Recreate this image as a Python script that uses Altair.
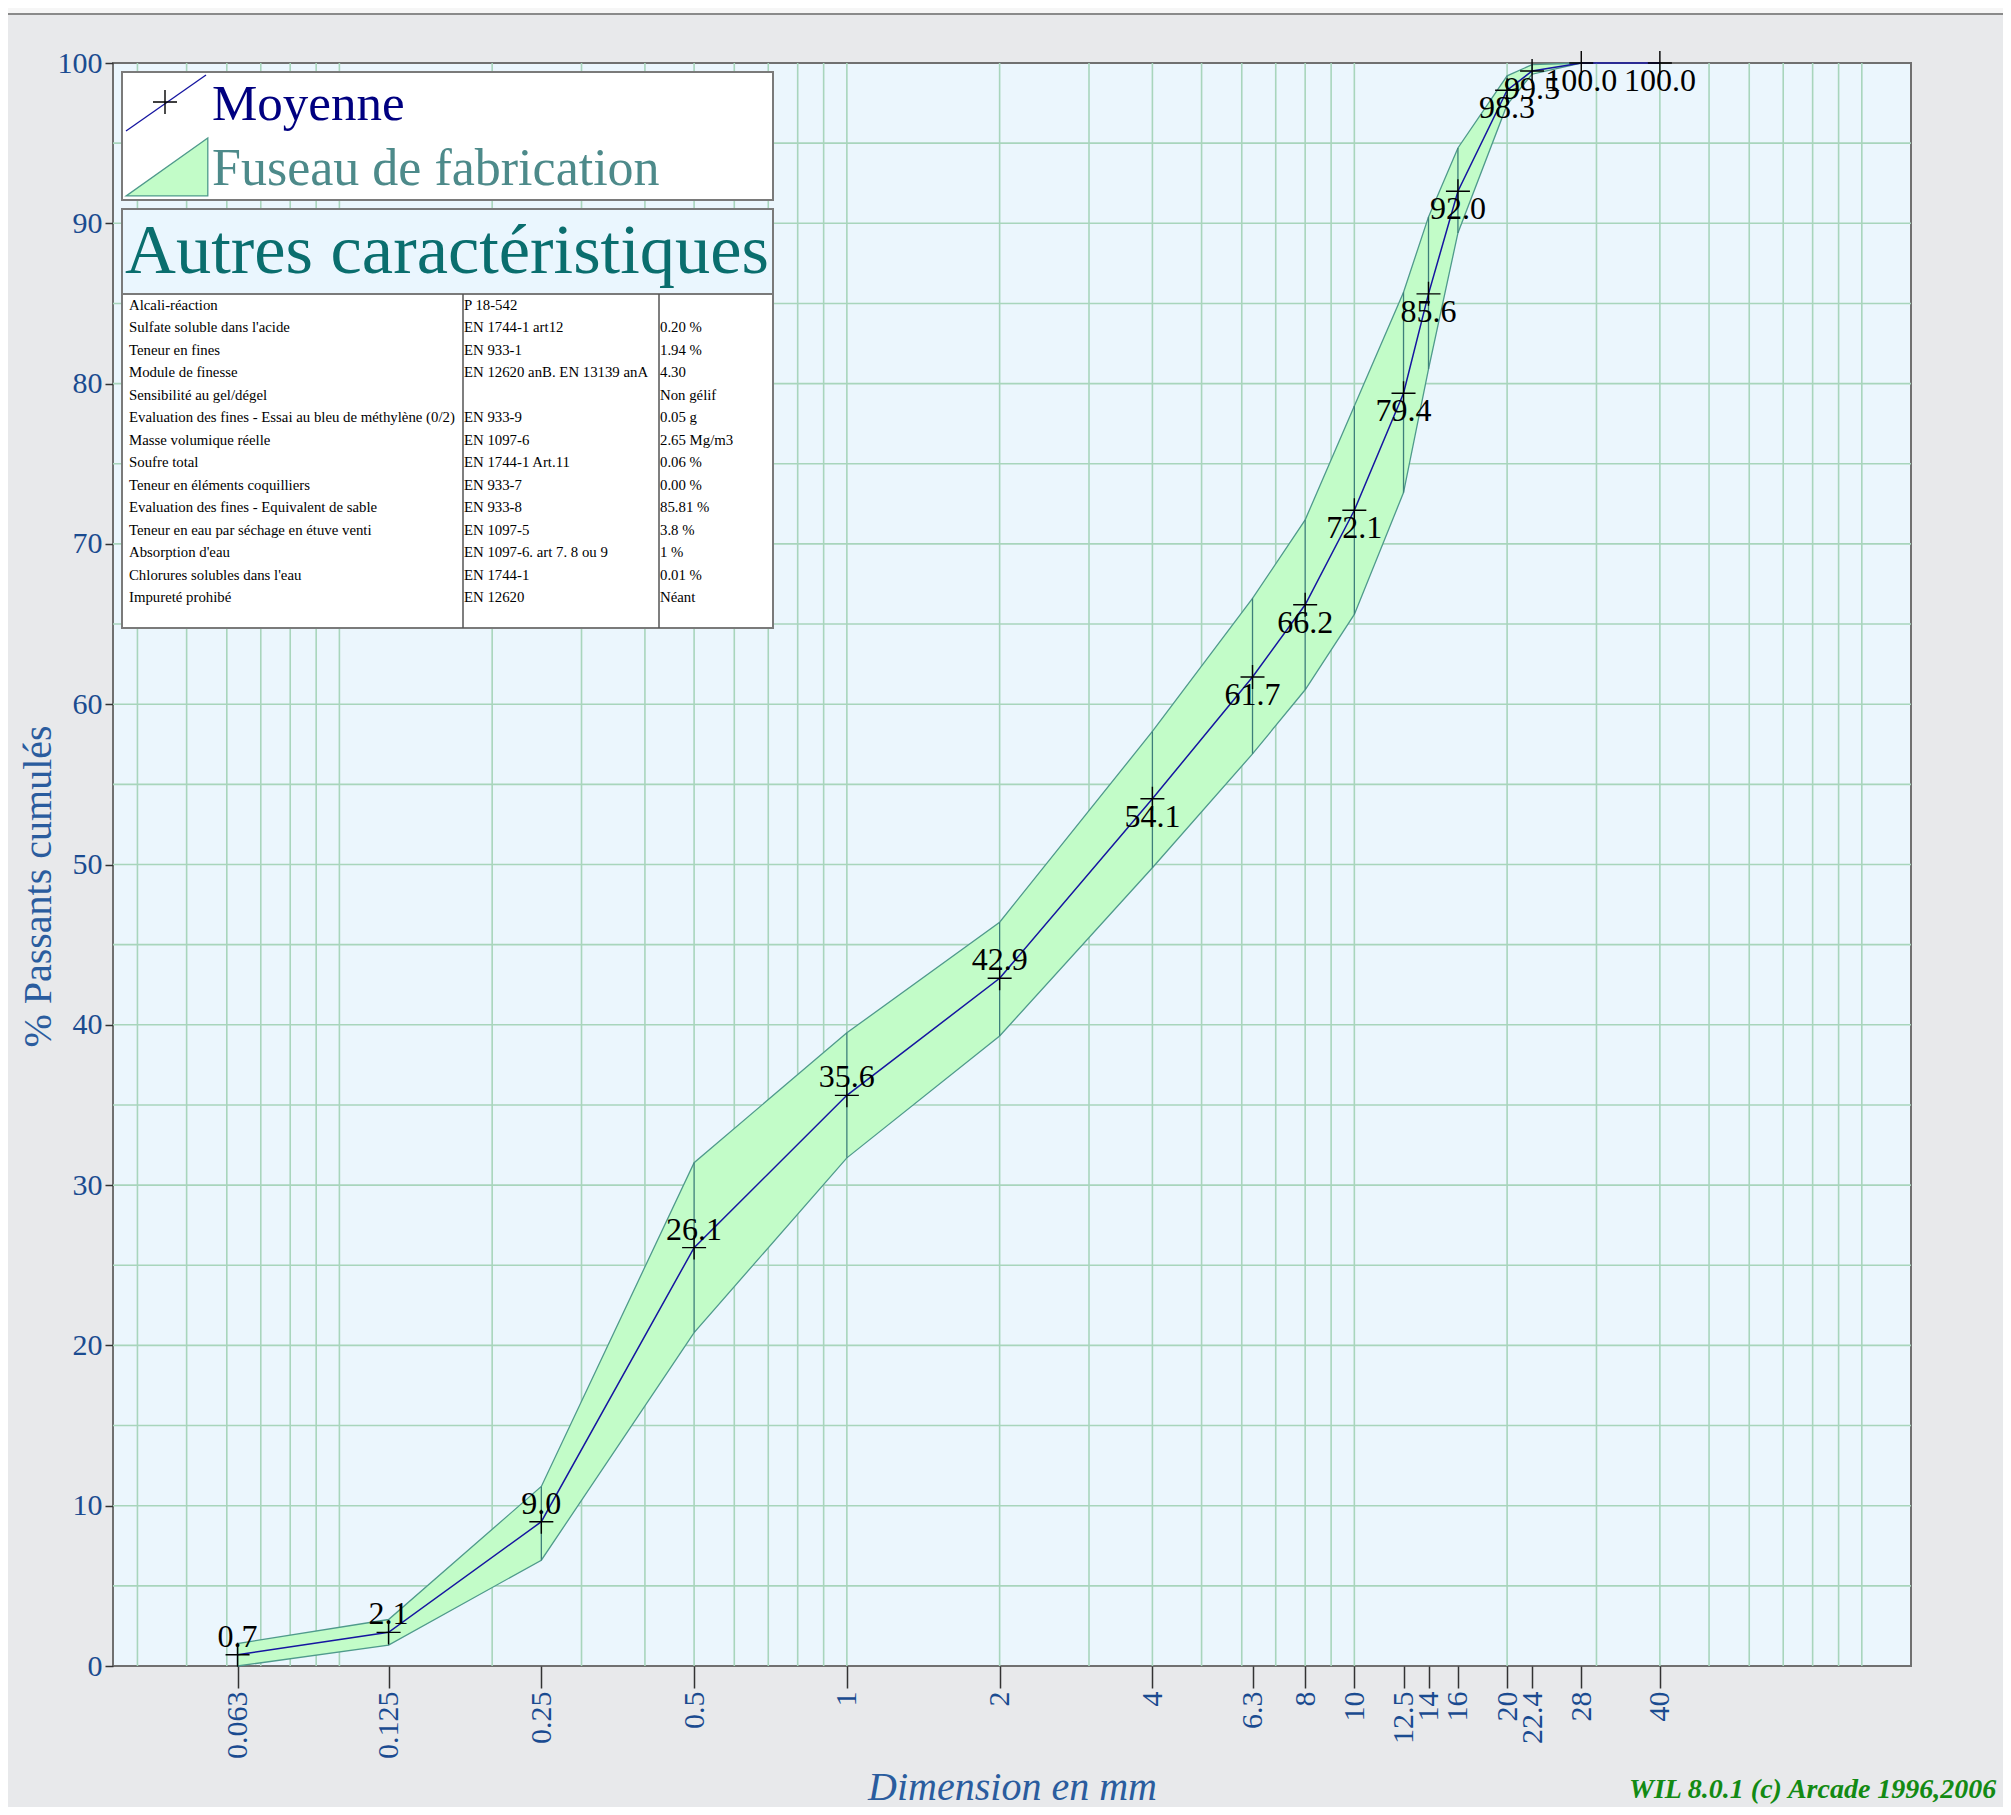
import altair as alt
import pandas as pd

# ---------------- data ----------------
sizes = [0.063, 0.125, 0.25, 0.5, 1, 2, 4, 6.3, 8, 10, 12.5, 14, 16, 20, 22.4, 28, 40]
mean_pass = [0.7, 2.1, 9.0, 26.1, 35.6, 42.9, 54.1, 61.7, 66.2, 72.1, 79.4, 85.6, 92.0, 98.3, 99.5, 100.0, 100.0]

band_sizes = [0.063, 0.125, 0.25, 0.5, 1, 2, 4, 6.3, 8, 10, 12.5, 14, 16, 20, 22.4, 28]
band_low = [0.0, 1.3, 6.6, 20.8, 31.7, 39.3, 49.8, 56.9, 60.9, 65.6, 73.2, 80.9, 89.4, 97.4, 99.3, 100.0]
band_high = [1.4, 2.9, 11.2, 31.4, 39.5, 46.4, 58.3, 66.6, 71.5, 78.6, 85.7, 90.4, 94.7, 99.2, 99.9, 100.0]

grid_x = [0.04, 0.05, 0.06, 0.07, 0.08, 0.09,
          0.1, 0.2, 0.3, 0.4, 0.5, 0.6, 0.7, 0.8, 0.9,
          1, 2, 3, 4, 5, 6, 7, 8, 9,
          10, 20, 30, 40, 50, 60, 70, 80, 90, 100]
grid_y = [5, 10, 15, 20, 25, 30, 35, 40, 45, 50, 55, 60, 65, 70, 75, 80, 85, 90, 95]
y_ticks = [0, 10, 20, 30, 40, 50, 60, 70, 80, 90, 100]

legend_labels = ["Moyenne", "Fuseau de fabrication"]
table_title = "Autres caractéristiques"
tbl_names = [
    "Alcali-réaction",
    "Sulfate soluble dans l'acide",
    "Teneur en fines",
    "Module de finesse",
    "Sensibilité au gel/dégel",
    "Evaluation des fines - Essai au bleu de méthylène (0/2)",
    "Masse volumique réelle",
    "Soufre total",
    "Teneur en éléments coquilliers",
    "Evaluation des fines - Equivalent de sable",
    "Teneur en eau par séchage en étuve venti",
    "Absorption d'eau",
    "Chlorures solubles dans l'eau",
    "Impureté prohibé",
]
tbl_norms = [
    "P 18-542",
    "EN 1744-1 art12",
    "EN 933-1",
    "EN 12620 anB. EN 13139 anA",
    "",
    "EN 933-9",
    "EN 1097-6",
    "EN 1744-1 Art.11",
    "EN 933-7",
    "EN 933-8",
    "EN 1097-5",
    "EN 1097-6. art 7. 8 ou 9",
    "EN 1744-1",
    "EN 12620",
]
tbl_values = [
    "",
    "0.20 %",
    "1.94 %",
    "4.30",
    "Non gélif",
    "0.05 g",
    "2.65 Mg/m3",
    "0.06 %",
    "0.00 %",
    "85.81 %",
    "3.8 %",
    "1 %",
    "0.01 %",
    "Néant",
]
x_title = "Dimension en mm"
y_title = "% Passants cumulés"
footer = "WIL 8.0.1 (c) Arcade 1996,2006"

# ---------------- styling ----------------
SERIF = "Liberation Serif"
AXIS_BLUE = "#1a4b90"
TITLE_BLUE = "#2a5c9e"
BAND_FILL = "#c2fcc8"
BAND_STROKE = "#4f9a8c"
GRID = "#a8d5bc"
CROSS = "M-1,0L1,0M0,-1L0,1"

W, H = 1798, 1603

df = pd.DataFrame({"size": sizes, "mean": mean_pass})
band_df = pd.DataFrame({"size": band_sizes, "low": band_low, "high": band_high})
gx_df = pd.DataFrame({"size": grid_x})
gy_df = pd.DataFrame({"mean": grid_y})
one = pd.DataFrame({"k": [0]})

xscale = alt.Scale(type="log", domain=[0.0358, 125], nice=False)
yscale = alt.Scale(domain=[0, 100], nice=False, zero=False)

xax = alt.Axis(
    values=sizes, format="~g", labelAngle=270, labelAlign="right", labelBaseline="middle",
    labelFont=SERIF, labelFontSize=30, labelColor=AXIS_BLUE, labelPadding=3,
    labelOverlap=False, labelFlush=False, labelBound=False,
    tickSize=22, tickColor="#333333", tickWidth=1.5, domain=False, grid=False,
    title=x_title, titleFont=SERIF, titleFontSize=40, titleFontStyle="italic",
    titleFontWeight="normal", titleColor=TITLE_BLUE, titleX=899, titleY=133,
    titleAlign="center", titleBaseline="alphabetic",
)
yax = alt.Axis(
    values=y_ticks, format="d", labelFont=SERIF, labelFontSize=30, labelColor=AXIS_BLUE,
    labelPadding=3, labelFlush=False, tickSize=8, tickColor="#333333", tickWidth=1.5,
    domain=False, grid=False,
    title=y_title, titleFont=SERIF, titleFontSize=40, titleFontWeight="normal",
    titleColor=TITLE_BLUE, titleAngle=270, titleX=-75, titleY=823,
    titleAlign="center", titleBaseline="middle",
)

X = alt.X("size:Q", scale=xscale, axis=xax)
Y = alt.Y("mean:Q", scale=yscale, axis=yax)

grid_v = alt.Chart(gx_df).mark_rule(color=GRID, strokeWidth=1.6).encode(x=X)
grid_h = alt.Chart(gy_df).mark_rule(color=GRID, strokeWidth=1.6).encode(y=Y)

band = alt.Chart(band_df).mark_area(
    fill=BAND_FILL, stroke=BAND_STROKE, strokeWidth=1.3, opacity=1
).encode(x=X, y=alt.Y("low:Q", scale=yscale, axis=yax), y2="high:Q")

band_rules = alt.Chart(band_df).mark_rule(color="#3d7f7a", strokeWidth=1.3).encode(
    x=X, y=alt.Y("low:Q", scale=yscale, axis=yax), y2="high:Q"
)

line = alt.Chart(df).mark_line(color="#1515a0", strokeWidth=1.5).encode(x=X, y=Y)

crosses = alt.Chart(df).mark_point(
    shape=CROSS, size=576, filled=False, color="black", strokeWidth=1.4, opacity=1
).encode(x=X, y=Y)

lab_above = alt.Chart(df).transform_filter("datum.mean < 50").mark_text(
    font=SERIF, fontSize=32, color="black", dy=-8, baseline="alphabetic", align="center"
).encode(x=X, y=Y, text=alt.Text("mean:Q", format=".1f"))

lab_below = alt.Chart(df).transform_filter("datum.mean >= 50").mark_text(
    font=SERIF, fontSize=32, color="black", dy=28, baseline="alphabetic", align="center"
).encode(x=X, y=Y, text=alt.Text("mean:Q", format=".1f"))

# ---- legend box ----
leg_box = alt.Chart(one).mark_rect(fill="white", stroke="#7a7a7a", strokeWidth=2).encode(
    x=alt.value(9), x2=alt.value(660), y=alt.value(9), y2=alt.value(137)
)
leg_line = alt.Chart(one).mark_rule(color="#1515a0", strokeWidth=1.3).encode(
    x=alt.value(13), y=alt.value(68), x2=alt.value(93), y2=alt.value(12)
)
leg_cross = alt.Chart(one).mark_point(
    shape=CROSS, size=576, filled=False, color="black", strokeWidth=1.4, opacity=1
).encode(x=alt.value(52), y=alt.value(39))
leg_tri = alt.Chart(one).mark_point(
    shape="M-1,0.71L1,0.71L1,-0.71Z", size=6659, filled=True, fill=BAND_FILL,
    stroke=BAND_STROKE, strokeWidth=1.3, opacity=1
).encode(x=alt.value(54), y=alt.value(104))
leg_t1 = alt.Chart(one).mark_text(
    text=legend_labels[0], font=SERIF, fontSize=51, color="#000080", align="left", baseline="alphabetic"
).encode(x=alt.value(99), y=alt.value(57))
leg_t2 = alt.Chart(one).mark_text(
    text=legend_labels[1], font=SERIF, fontSize=52, color="#4d8a8a", align="left", baseline="alphabetic"
).encode(x=alt.value(99), y=alt.value(122))

# ---- characteristics table ----
hdr_box = alt.Chart(one).mark_rect(fill="#eaf6fe", stroke="#7a7a7a", strokeWidth=2).encode(
    x=alt.value(9), x2=alt.value(660), y=alt.value(146), y2=alt.value(231)
)
hdr_text = alt.Chart(one).mark_text(
    text=table_title, font=SERIF, fontSize=70.5, color="#0a6e6e", align="left", baseline="alphabetic"
).encode(x=alt.value(12), y=alt.value(210))
tbl_box = alt.Chart(one).mark_rect(fill="white", stroke="#7a7a7a", strokeWidth=2).encode(
    x=alt.value(9), x2=alt.value(660), y=alt.value(231), y2=alt.value(565)
)
div1 = alt.Chart(one).mark_rule(color="#555555", strokeWidth=1.5).encode(
    x=alt.value(350), y=alt.value(231), y2=alt.value(565)
)
div2 = alt.Chart(one).mark_rule(color="#555555", strokeWidth=1.5).encode(
    x=alt.value(546), y=alt.value(231), y2=alt.value(565)
)

ROW0, ROW_STEP = 247, 22.46
cell_layers = []
for col_lines, xpos in ((tbl_names, 16), (tbl_norms, 351), (tbl_values, 547)):
    for i, s in enumerate(col_lines):
        if not s:
            continue
        cell_layers.append(
            alt.Chart(one).mark_text(
                text=s, font=SERIF, fontSize=14.8, color="black",
                align="left", baseline="alphabetic"
            ).encode(x=alt.value(xpos), y=alt.value(ROW0 + i * ROW_STEP))
        )

# ---- footer and window frame ----
foot = alt.Chart(one).mark_text(
    text=footer, font=SERIF, fontSize=28, fontStyle="italic", fontWeight="bold",
    color="#138a13", align="left", baseline="alphabetic"
).encode(x=alt.value(1516), y=alt.value(1735))
top_strip = alt.Chart(one).mark_rect(fill="#f6f6f6").encode(
    x=alt.value(-105), x2=alt.value(1890), y=alt.value(-55), y2=alt.value(-49)
)
top_line = alt.Chart(one).mark_rule(color="#8a8a8a", strokeWidth=2).encode(
    x=alt.value(-105), x2=alt.value(1890), y=alt.value(-49)
)

chart = alt.layer(
    grid_v, grid_h, band, band_rules, line, crosses, lab_above, lab_below,
    leg_box, leg_line, leg_cross, leg_tri, leg_t1, leg_t2,
    hdr_box, hdr_text, tbl_box, div1, div2, *cell_layers,
    foot, top_strip, top_line,
).properties(
    width=W, height=H, autosize="none",
    padding={"left": 105, "top": 55, "right": 92, "bottom": 141},
    background="#e8e9eb",
).configure_view(
    fill="#ebf6fd", stroke="#707070", strokeWidth=2
)

chart.save("out.html", embed_options={"renderer": "svg", "actions": False})
